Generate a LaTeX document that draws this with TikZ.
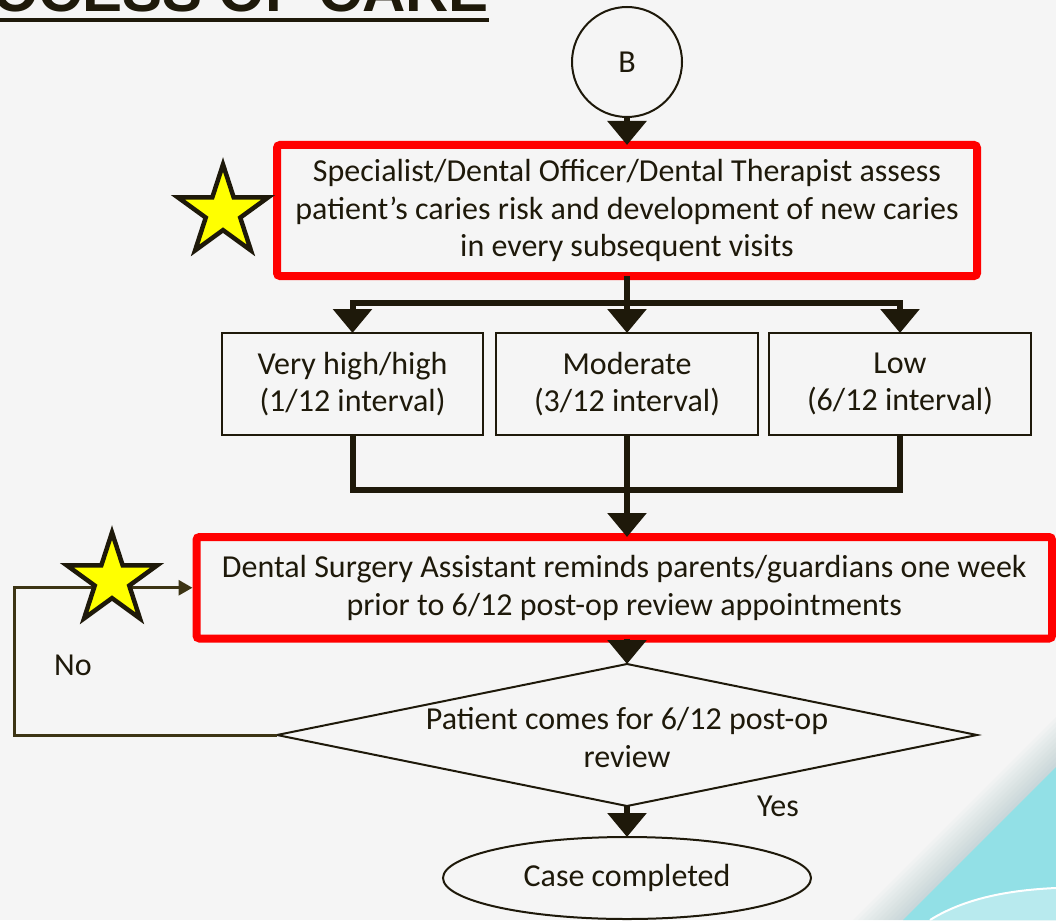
\documentclass[tikz,border=0pt]{standalone}
\usepackage{fontspec}
\setmainfont{Carlito}
\newfontfamily\titlefont{Liberation Sans}
\usetikzlibrary{arrows.meta,shapes.geometric}
\definecolor{ink}{RGB}{30,25,10}
\definecolor{bg}{RGB}{245,245,245}
\definecolor{redb}{RGB}{255,0,0}
\definecolor{loopc}{RGB}{60,52,20}
\definecolor{teal1}{RGB}{146,224,230}
\definecolor{teal2}{RGB}{184,234,238}
\definecolor{shad}{RGB}{120,160,170}
\definecolor{staryel}{RGB}{255,255,0}
\begin{document}
\begin{tikzpicture}[x=1pt,y=-1pt,
  txt/.style={font=\fontsize{32}{37.5}\selectfont, text=ink, align=center},
  redbox/.style={txt, draw=redb, line width=8pt, rounded corners=3pt, inner sep=0pt, outer sep=0pt},
  riskbox/.style={txt, draw=ink, line width=2pt, minimum width=261pt, minimum height=102pt, inner sep=0pt, outer sep=0pt},
  flowline/.style={draw=ink, line width=6pt},
  flowarrow/.style={flowline, -{Triangle[width=38pt,length=24pt]}},
  loopline/.style={draw=loopc, line width=3pt, -{Triangle[width=15pt,length=14pt]}},
  starshape/.style={star, star points=5, star point ratio=2.618, minimum size=95pt, inner sep=0pt, outer sep=0pt, draw=ink, line width=4.5pt, fill=staryel},
]
\useasboundingbox (0,0) rectangle (1056,920);
\clip (0,0) rectangle (1056,920);
\fill[bg] (0,0) rectangle (1056,920);
% corner decoration
\foreach \i in {1,...,10}
  \fill[shad, opacity=0.035] (1056,{767-5*\i}) -- ({903-5*\i},920) -- (1056,920) -- cycle;
\fill[teal1] (1056,767) -- (903,920) -- (1056,920) -- cycle;
\fill[teal2] (930,920) .. controls (965,898) and (1010,890) .. (1056,888) -- (1056,920) -- cycle;
\draw[white, line width=2pt] (930,920) .. controls (965,898) and (1010,890) .. (1056,888);
% title
\node[anchor=base east, inner sep=0pt, font=\titlefont\bfseries\fontsize{60}{60}\selectfont, text=ink] (title) at (489,12) {PROCESS OF CARE};
\draw[ink, line width=4pt] (0,20) -- (489,20);
% nodes
\node[circle, draw=ink, line width=2pt, minimum size=110pt, inner sep=0pt, txt] (B) at (627,62) {B};
\node[redbox, minimum width=700pt, minimum height=131pt] (b1) at (627,210.5) {Specialist/Dental Officer/Dental Therapist assess\\patient’s caries risk and development of new caries\\in every subsequent visits};
\node[riskbox] (ra) at (352.5,384) {Very high/high\\(1/12 interval)};
\node[riskbox, minimum width=262pt] (rb) at (627,384) {Moderate\\(3/12 interval)};
\node[riskbox, minimum width=262pt] (rc) at (900,384) {Low\\(6/12 interval)};
\node[redbox, minimum width=855.5pt, minimum height=101.5pt] (b2) at (624.25,587.75) {Dental Surgery Assistant reminds parents/guardians one week\\prior to 6/12 post-op review appointments};
\node[diamond, draw=ink, line width=2pt, minimum width=700pt, minimum height=142pt, inner sep=0pt, outer sep=0pt] (dm) at (627,735) {};
\node[txt] (dmt) at (627,737.5) {Patient comes for 6/12 post-op\\review};
\node[ellipse, draw=ink, line width=2pt, minimum width=368pt, minimum height=82pt, inner sep=0pt, outer sep=0pt, txt] (ce) at (627,878) {Case completed};
\node[txt] (no) at (73,665) {No};
\node[txt] (yes) at (778,806) {Yes};
% connectors
\coordinate (jt) at (627,303);
\coordinate (jb) at (627,490);
\draw[flowarrow] (B.south) -- (b1.north);
\draw[flowline] (b1.south) -- (jt);
\draw[flowarrow] (jt) -| (ra.north);
\draw[flowarrow] (jt) -- (rb.north);
\draw[flowarrow] (jt) -| (rc.north);
\draw[flowline] (ra.south) |- (jb);
\draw[flowline] (rc.south) |- (jb);
\draw[flowarrow] (rb.south) -- (rb.south |- b2.north);
\draw[flowarrow] (b2.south -| dm.north) -- (dm.north);
\draw[flowarrow] (dm.south) -- (ce.north);
\coordinate (lb) at (14,735);
\coordinate (lt) at (14,587.75);
\draw[loopline, shorten >=4pt] (dm.west) -- (lb) -- (lt) -- (b2.west);
% stars
\node[starshape] (s1) at (223,212) {};
\node[starshape] (s2) at (112,580) {};
\end{tikzpicture}
\end{document}
